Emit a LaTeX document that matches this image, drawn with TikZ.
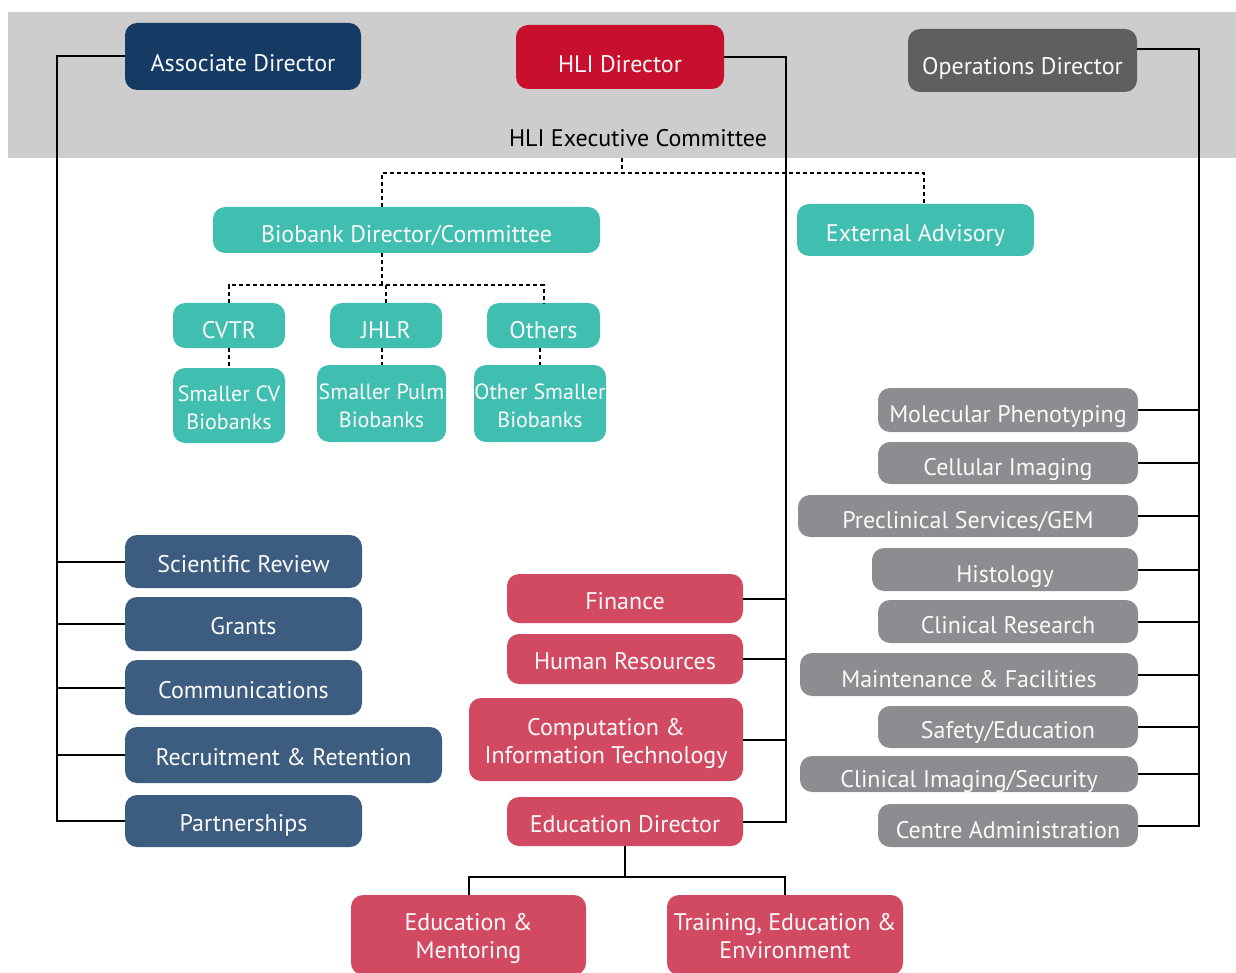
\documentclass[tikz,border=0pt]{standalone}
\usepackage{fontspec}
\setmainfont{PT Sans}
\definecolor{bandgray}{RGB}{205,205,205}
\definecolor{navy}{RGB}{21,58,99}
\definecolor{hlired}{RGB}{200,16,46}
\definecolor{opgray}{RGB}{95,95,98}
\definecolor{bluebox}{RGB}{61,93,128}
\definecolor{pinkbox}{RGB}{210,74,98}
\definecolor{tealbox}{RGB}{64,190,176}
\definecolor{graybox}{RGB}{140,141,144}
\definecolor{txtwhite}{RGB}{250,250,250}
\newcommand{\lbl}[2][5pt]{\raisebox{-#1}[\height][\depth]{\begin{tabular}{@{}c@{}}#2\end{tabular}}}
\tikzset{
  box/.style={rounded corners=12pt, inner sep=0pt, text=txtwhite, align=center,
    font=\fontsize{24}{28}\selectfont},
  navybox/.style={box, fill=navy},
  redbox/.style={box, fill=hlired},
  opbox/.style={box, fill=opgray},
  bbox/.style={box, fill=bluebox},
  pbox/.style={box, fill=pinkbox},
  tbox/.style={box, fill=tealbox},
  tsbox/.style={tbox, font=\fontsize{22}{28}\selectfont},
  gbox/.style={box, fill=graybox},
  conn/.style={line width=2pt, black},
  dashline/.style={line width=2pt, black, dash pattern=on 4pt off 3pt},
}
\begin{document}
\begin{tikzpicture}[x=1pt, y=-1pt]
\useasboundingbox (0,0) rectangle (1236,973);
\clip (0,0) rectangle (1236,973);
\fill[bandgray] (8,12) rectangle (1236,158);

% top
\node[navybox, minimum width=236pt, minimum height=67pt] (ad) at (243,56.5) {\lbl[9pt]{Associate Director}};
\node[redbox, minimum width=208pt, minimum height=64pt] (hd) at (620,57) {\lbl[10pt]{HLI Director}};
\node[opbox, minimum width=229pt, minimum height=63pt] (od) at (1022.5,60.5) {\lbl[8pt]{Operations Director}};
\node[font=\fontsize{24}{28}\selectfont, text=black, inner sep=0pt] (exec) at (638,138) {\lbl[3pt]{HLI Executive Committee}};

% biobank
\node[tbox, minimum width=387pt, minimum height=46pt] (bio) at (406.5,230) {\lbl[7pt]{Biobank Director/Committee}};
\node[tbox, minimum width=237pt, minimum height=52pt] (ext) at (915.5,230) {\lbl[6pt]{External Advisory}};
\node[tbox, minimum width=112pt, minimum height=45pt] (cvtr) at (229,325.5) {\lbl[7pt]{CVTR}};
\node[tbox, minimum width=112pt, minimum height=45pt] (jhlr) at (386,325.5) {\lbl[7pt]{JHLR}};
\node[tbox, minimum width=113pt, minimum height=45pt] (oth) at (543.5,325.5) {\lbl[7pt]{Others}};
\node[tsbox, minimum width=112pt, minimum height=75pt] (scv) at (229,405.5) {\lbl[4pt]{Smaller CV\\Biobanks}};
\node[tsbox, minimum width=129pt, minimum height=77pt] (spl) at (381.5,403.5) {\lbl[4pt]{Smaller Pulm\\Biobanks}};
\node[tsbox, minimum width=132pt, minimum height=77pt] (osb) at (540,403.5) {\lbl[4pt]{Other Smaller\\Biobanks}};

% associate
\node[bbox, minimum width=237pt, minimum height=53pt] (sr) at (243.5,561.5) {\lbl{Scientific Review}};
\node[bbox, minimum width=237pt, minimum height=54pt] (gr) at (243.5,624) {\lbl{Grants}};
\node[bbox, minimum width=237pt, minimum height=55pt] (co) at (243.5,687.5) {\lbl{Communications}};
\node[bbox, minimum width=317pt, minimum height=56pt] (rr) at (283.5,755) {\lbl{Recruitment \& Retention}};
\node[bbox, minimum width=237pt, minimum height=52pt] (pa) at (243.5,821) {\lbl{Partnerships}};

% HLI director
\node[pbox, minimum width=236pt, minimum height=49pt] (fi) at (625,598.5) {\lbl{Finance}};
\node[pbox, minimum width=236pt, minimum height=50pt] (hr) at (625,659) {\lbl{Human Resources}};
\node[pbox, minimum width=274pt, minimum height=83pt] (cit) at (606,739.5) {\lbl[4pt]{Computation \&\\Information Technology}};
\node[pbox, minimum width=236pt, minimum height=49pt] (ed) at (625,821.5) {\lbl{Education Director}};
\node[pbox, minimum width=235pt, minimum height=80pt] (em) at (468.5,935) {\lbl[4pt]{Education \&\\Mentoring}};
\node[pbox, minimum width=236pt, minimum height=80pt] (tr) at (785,935) {\lbl[4pt]{Training, Education \&\\Environment}};

% operations
\node[gbox, minimum width=260pt, minimum height=44pt] (mp) at (1008,410) {\lbl[7pt]{Molecular Phenotyping}};
\node[gbox, minimum width=260pt, minimum height=42pt] (cim) at (1008,463) {\lbl[7pt]{Cellular Imaging}};
\node[gbox, minimum width=340pt, minimum height=42pt] (ps) at (968,516) {\lbl[7pt]{Preclinical Services/GEM}};
\node[gbox, minimum width=266pt, minimum height=43pt] (hi) at (1005,569.5) {\lbl[7pt]{Histology}};
\node[gbox, minimum width=260pt, minimum height=43pt] (cr) at (1008,621.5) {\lbl[6pt]{Clinical Research}};
\node[gbox, minimum width=338pt, minimum height=43pt] (mf) at (969,674.5) {\lbl[7pt]{Maintenance \& Facilities}};
\node[gbox, minimum width=260pt, minimum height=42pt] (se) at (1008,727) {\lbl[6pt]{Safety/Education}};
\node[gbox, minimum width=338pt, minimum height=36pt] (cis) at (969,774) {\lbl[8pt]{Clinical Imaging/Security}};
\node[gbox, minimum width=260pt, minimum height=43pt] (ca) at (1008,825.5) {\lbl[7pt]{Centre Administration}};

% coordinates
\coordinate (aj) at (57,56.5);
\coordinate (hj) at (786,57);
\coordinate (oj) at (1199,49.5);
\coordinate (xt) at (622,158);
\coordinate (xj) at (622,173);
\coordinate (bj) at (382,173);
\coordinate (ej) at (924,173);
\coordinate (bb) at (382,285);
\coordinate (edj) at (625,877);

% associate connectors
\draw[conn] (ad.west) -- (aj) |- (pa.west);
\foreach \n in {sr,gr,co,rr} \draw[conn] (\n.west) -- (\n.west -| aj);

% HLI director connectors
\draw[conn] (hd.east) -- (hj) |- (ed.east);
\foreach \n in {fi,hr,cit} \draw[conn] (\n.east) -- (\n.east -| hj);
\draw[conn] (ed.south) -- (edj);
\draw[conn] (em.north) |- (edj) -| (tr.north);

% operations connectors
\draw[conn] ([yshift=11pt]od.east) -- (oj) |- (ca.east);
\foreach \n in {mp,cim,ps,hi,cr,mf,se,cis} \draw[conn] (\n.east) -- (\n.east -| oj);

% dashed
\draw[dashline] (xt) -- (xj);
\draw[dashline] (bio.north -| bj) -- (bj) -- (ej) -- (ext.north -| ej);
\draw[dashline] (bio.south -| bb) -- (bb);
\draw[dashline] (cvtr.north) -- (cvtr.north |- bb) -- (oth.north |- bb) -- (oth.north);
\draw[dashline] (jhlr.north |- bb) -- (jhlr.north);
\draw[dashline] (cvtr.south) -- (scv.north);
\draw[dashline] (jhlr.south -| spl.north) -- (spl.north);
\draw[dashline] (oth.south -| osb.north) -- (osb.north);
\end{tikzpicture}
\end{document}
